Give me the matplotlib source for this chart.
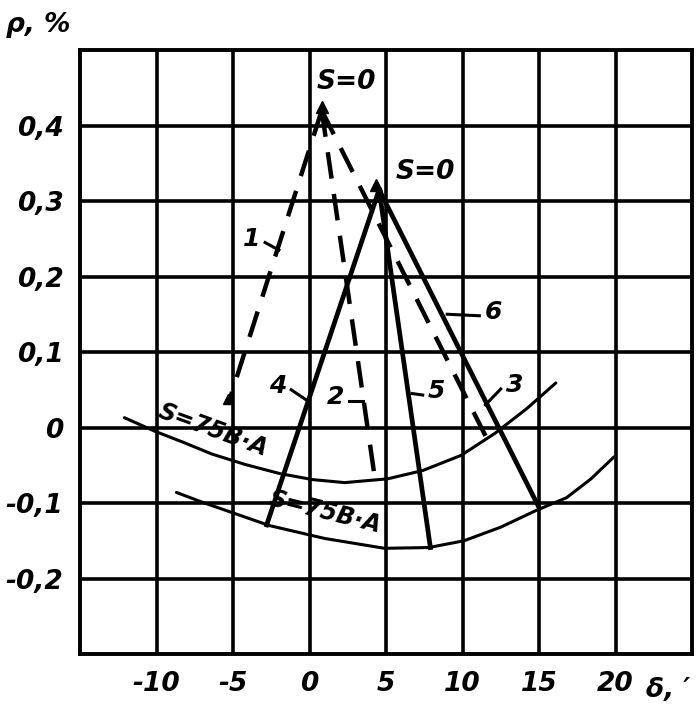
import matplotlib
matplotlib.use("Agg")
import matplotlib.pyplot as plt

# ---- data ----
x_ticks = [-10, -5, 0, 5, 10, 15, 20]
x_tick_labels = ["-10", "-5", "0", "5", "10", "15", "20"]
y_ticks = [0.4, 0.3, 0.2, 0.1, 0.0, -0.1, -0.2]
y_tick_labels = ["0,4", "0,3", "0,2", "0,1", "0", "-0,1", "-0,2"]

# S = 0 points (apexes)
apex_dashed = (0.8, 0.42)
apex_solid = (4.55, 0.315)

# end points of the lines 1..6
dashed_ends_x = [-5.3, 4.3, 11.5]      # lines 1, 2, 3
dashed_ends_y = [0.032, -0.071, -0.011]
solid_ends_x = [-2.8, 7.9, 15.0]       # lines 4, 5, 6
solid_ends_y = [-0.129, -0.159, -0.106]

# S = 75 В·А curves
upper_x = [-12.1, -10.1, -8.2, -6.4, -4.2, -1.95, 0.2, 2.3, 5.1, 7.4, 9.9, 12.1, 14.2, 16.1]
upper_y = [0.013, -0.005, -0.020, -0.035, -0.049, -0.061, -0.069, -0.073, -0.068, -0.057, -0.037, -0.008, 0.025, 0.059]
lower_x = [-8.7, -7.0, -5.3, -2.6, 1.0, 4.9, 7.8, 10.1, 12.5, 14.8, 16.8, 18.4, 19.9]
lower_y = [-0.086, -0.099, -0.111, -0.130, -0.147, -0.160, -0.159, -0.150, -0.132, -0.110, -0.093, -0.068, -0.039]

line_names_dashed = ["1", "2", "3"]
line_names_solid = ["4", "5", "6"]

# ---- figure ----
fig = plt.figure(figsize=(6.99, 7.21), dpi=100)
ax = fig.add_axes([80 / 699, 1 - 654 / 721, (692 - 80) / 699, (654 - 50) / 721])
ax.set_xlim(-15, 25)
ax.set_ylim(-0.3, 0.5)

font = dict(family="DejaVu Sans", style="italic", weight="bold")
ink = "black"

ax.set_xticks(x_ticks)
ax.set_xticklabels(x_tick_labels, fontsize=19, **font)
ax.set_yticks(y_ticks)
ax.set_yticklabels(y_tick_labels, fontsize=19, **font)
ax.tick_params(length=0, pad=12)
ax.grid(True, color=ink, linewidth=2.6)
for s in ax.spines.values():
    s.set_linewidth(2.8)

# curves
ax.plot(upper_x, upper_y, color=ink, lw=2.2, solid_capstyle="round")
ax.plot(lower_x, lower_y, color=ink, lw=2.2, solid_capstyle="round")

# dashed lines from the upper S=0 point
for ex, ey in zip(dashed_ends_x, dashed_ends_y):
    ax.plot([apex_dashed[0], ex], [apex_dashed[1], ey], color=ink, lw=3.2,
            linestyle=(0, (6, 3.5)))
# solid lines from the lower S=0 point
for ex, ey in zip(solid_ends_x, solid_ends_y):
    ax.plot([apex_solid[0], ex], [apex_solid[1], ey], color=ink, lw=3.4)

# small wedge tips
ax.plot([apex_dashed[0]], [apex_dashed[1] + 0.004], marker="^", ms=9, color=ink)
ax.plot([apex_solid[0] - 0.2], [apex_solid[1] + 0.006], marker="^", ms=9, color=ink)
ax.plot([dashed_ends_x[0]], [dashed_ends_y[0] + 0.006], marker="^", ms=7, color=ink)

# labels
ax.text(2.4, 0.458, "S=0", fontsize=19, ha="center", va="center", **font)
ax.text(7.6, 0.338, "S=0", fontsize=19, ha="center", va="center", **font)
ax.text(-6.3, -0.004, "S=75В·А", fontsize=17, ha="center", va="center",
        rotation=-20, rotation_mode="anchor", **font)
ax.text(1.0, -0.112, "S=75В·А", fontsize=17, ha="center", va="center",
        rotation=-14, rotation_mode="anchor", **font)

# number labels with leader strokes
labels = [
    ("1", (-3.8, 0.25), (-2.0, 0.235)),
    ("2", (1.7, 0.04), (3.5, 0.035)),
    ("3", (13.4, 0.056), (11.5, 0.03)),
    ("4", (-2.1, 0.055), (-0.1, 0.035)),
    ("5", (8.3, 0.048), (6.7, 0.045)),
    ("6", (12.0, 0.153), (9.0, 0.15)),
]
for txt, (tx, ty), (lx, ly) in labels:
    ax.text(tx, ty, txt, fontsize=18, ha="center", va="center", **font)
    dx = 0.9 if lx > tx else -0.9
    ax.plot([tx + dx, lx], [ty - 0.005, ly], color=ink, lw=2.2)

# axis titles
fig.text(38 / 699, 1 - 25 / 721, "ρ, %", fontsize=19, ha="center", va="center", **font)
fig.text(668 / 699, 1 - 690 / 721, "δ, ′", fontsize=19, ha="center", va="center", **font)

fig.savefig("out.png", dpi=100)
